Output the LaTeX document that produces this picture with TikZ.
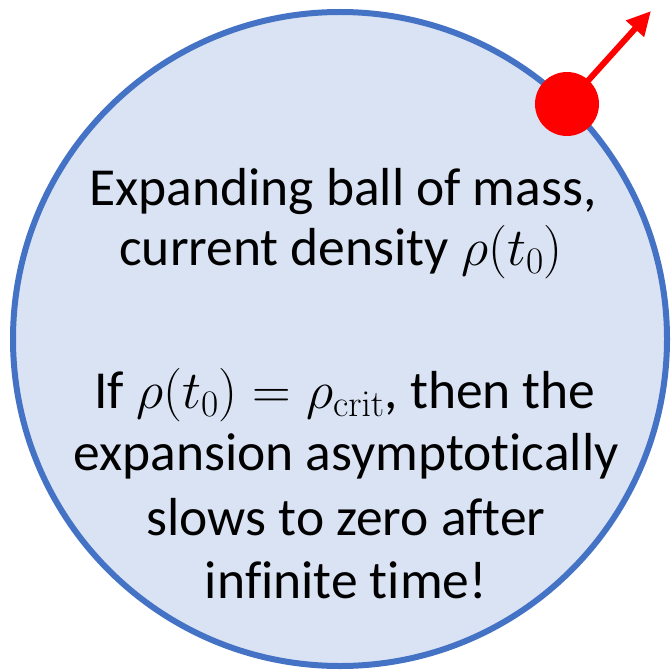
\documentclass[tikz,border=0pt]{standalone}
\usepackage{fix-cm}
\usepackage{fontspec}
\setmainfont[Ligatures=NoCommon]{Carlito}
\DeclareMathAlphabet{\mathcmr}{OT1}{cmr}{m}{n}
\usetikzlibrary{arrows.meta}
\definecolor{ballfill}{HTML}{DAE3F3}
\definecolor{balledge}{HTML}{4472C4}
\definecolor{massred}{HTML}{FF0000}
\tikzset{
  bigball/.style={circle, draw=balledge, fill=ballfill, line width=6pt, minimum size=654pt, inner sep=0pt},
  massdot/.style={circle, fill=massred, minimum size=64pt, inner sep=0pt},
  velarrow/.style={draw=massred, line width=6pt, -{Triangle[length=24pt,width=23pt]}},
  txt/.style={anchor=base, inner sep=0pt, font=\fontsize{53.5}{64}\selectfont}
}
\begin{document}
\begin{tikzpicture}[x=1pt,y=-1pt]
\useasboundingbox (0,0) rectangle (670,671);
\node[bigball] (ball) at (340,339) {};
\coordinate (m) at (567,104);
\coordinate (tip) at (651,11);
\draw[velarrow] (m) -- (tip);
\node[massdot] (mass) at (m) {};
\node[txt] (l1) at (343,205) {Expanding ball of mass,};
\node[txt] (l2) at (341,265) {current density $\rho(t_0)$};
\node[txt] (l3) at (345,408) {If $\rho(t_0)=\rho_{\mathcmr{crit}}$, then the};
\node[txt] (l4) at (346,470) {expansion asymptotically};
\node[txt] (l5) at (346,535) {slows to zero after};
\node[txt] (l6) at (346,598) {infinite time!};
\end{tikzpicture}
\end{document}
